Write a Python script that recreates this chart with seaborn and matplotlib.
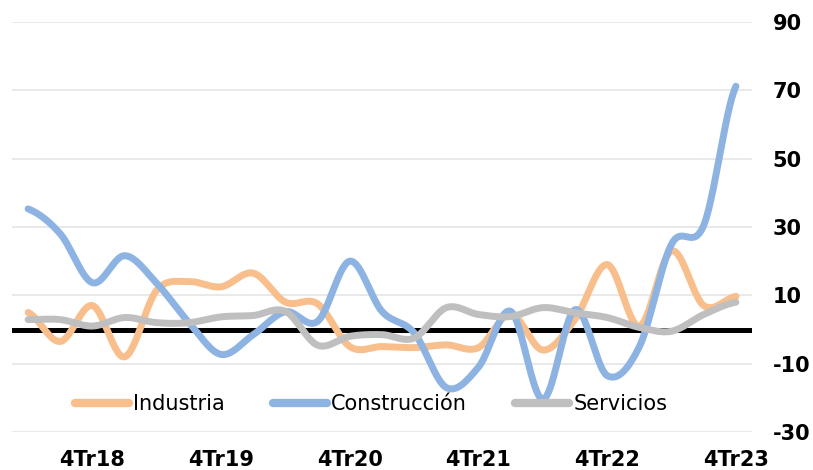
import numpy as np
import pandas as pd
import matplotlib
matplotlib.use("Agg")
import matplotlib.pyplot as plt
import seaborn as sns

# ---- data ----
trimestres = ["2Tr18", "3Tr18", "4Tr18", "1Tr19", "2Tr19", "3Tr19", "4Tr19",
              "1Tr20", "2Tr20", "3Tr20", "4Tr20", "1Tr21", "2Tr21", "3Tr21",
              "4Tr21", "1Tr22", "2Tr22", "3Tr22", "4Tr22", "1Tr23", "2Tr23",
              "3Tr23", "4Tr23"]
industria = [5, -3.5, 7, -8, 11.5, 14, 12.5, 16.5, 8, 7.5, -5, -5, -5.3, -4.5,
             -5.3, 4.5, -6, 3, 19, 1, 23, 7, 9.7]
construccion = [35.3, 28, 13.7, 21.6, 13.5, 2, -7.3, -1.5, 5.2, 2.4, 20, 5.3,
                -1, -17, -11, 5.3, -20.4, 5.8, -13.5, -5, 25, 30.5, 71.2]
servicios = [2.9, 2.9, 1, 3.5, 2, 2, 3.7, 4.1, 5.3, -4.6, -2, -1.5, -2.5, 6.4,
             4.4, 3.8, 6.4, 4.9, 3.5, 0.6, -0.5, 4.4, 8]
series_names = ["Industria", "Construcción", "Servicios"]
colors = ["#F8BF8D", "#8DB3E2", "#BFBFBF"]
etiquetas_x = ["4Tr18", "4Tr19", "4Tr20", "4Tr21", "4Tr22", "4Tr23"]
y_ticks = [-30, -10, 10, 30, 50, 70, 90]


def smooth(vals, n=40):
    """Excel-like smoothed line (Catmull-Rom Bezier through the points)."""
    p = np.asarray(vals, dtype=float)
    x = np.arange(len(p), dtype=float)
    xs, ys = [], []
    for i in range(len(p) - 1):
        p0 = p[i - 1] if i > 0 else p[i]
        p3 = p[i + 2] if i + 2 < len(p) else p[i + 1]
        p1, p2 = p[i], p[i + 1]
        c1 = p1 + (p2 - p0) / 6.0
        c2 = p2 - (p3 - p1) / 6.0
        t = np.linspace(0, 1, n, endpoint=False)
        y = ((1 - t) ** 3) * p1 + 3 * ((1 - t) ** 2) * t * c1 + 3 * (1 - t) * t ** 2 * c2 + t ** 3 * p2
        xs.append(x[i] + t)
        ys.append(y)
    xs.append([x[-1]])
    ys.append([p[-1]])
    return np.concatenate(xs), np.concatenate(ys)


frames = []
for name, vals in zip(series_names, [industria, construccion, servicios]):
    xs, ys = smooth(vals)
    frames.append(pd.DataFrame({"x": xs, "y": ys, "serie": name}))
df = pd.concat(frames, ignore_index=True)

sns.set_theme(style="white")
plt.rcParams["font.family"] = ["DejaVu Sans"]
plt.rcParams["text.color"] = "black"
plt.rcParams["xtick.color"] = "black"
plt.rcParams["ytick.color"] = "black"

fig = plt.figure(figsize=(8.13, 4.70), dpi=100)
ax = fig.add_axes([12 / 813, 38 / 470, 740 / 813, 410 / 470])

for yt in y_ticks:
    ax.axhline(yt, color="#E3E3E3", lw=1.1, zorder=0.5)
ax.axhline(0, color="black", lw=3.6, zorder=1.5)

sns.lineplot(data=df, x="x", y="y", hue="serie", hue_order=series_names,
             palette=colors, linewidth=5, sort=False, estimator=None,
             ax=ax, zorder=2)

ax.set_xlim(-0.5, len(trimestres) - 0.5)
ax.set_ylim(-30, 90)
tick_pos = [trimestres.index(l) for l in etiquetas_x]
ax.set_xticks(tick_pos)
ax.set_xticklabels(etiquetas_x, fontsize=15, fontweight="bold", color="black")
ax.set_yticks(y_ticks)
ax.set_yticklabels([str(v) for v in y_ticks], fontsize=15, fontweight="bold",
                   color="black")
ax.yaxis.tick_right()
ax.tick_params(axis="x", length=0, pad=13)
ax.tick_params(axis="y", length=0, pad=15)
for lab in ax.get_yticklabels():
    lab.set_horizontalalignment("left")
ax.set_xlabel("")
ax.set_ylabel("")
for s in ax.spines.values():
    s.set_visible(False)

handles, labels = ax.get_legend_handles_labels()
for h in handles:
    h.set_linewidth(6)
    h.set_solid_capstyle("round")
leg = ax.legend(handles, labels, loc="center", ncol=3, frameon=False,
                bbox_to_anchor=((371 - 12) / 740, (470 - 404 - 38) / 410),
                fontsize=15, handlelength=2.6, handletextpad=0.2,
                columnspacing=2.3, borderpad=0, labelcolor="black")

for line in ax.get_lines():
    line.set_solid_capstyle("round")

fig.savefig("out.png", dpi=100)
